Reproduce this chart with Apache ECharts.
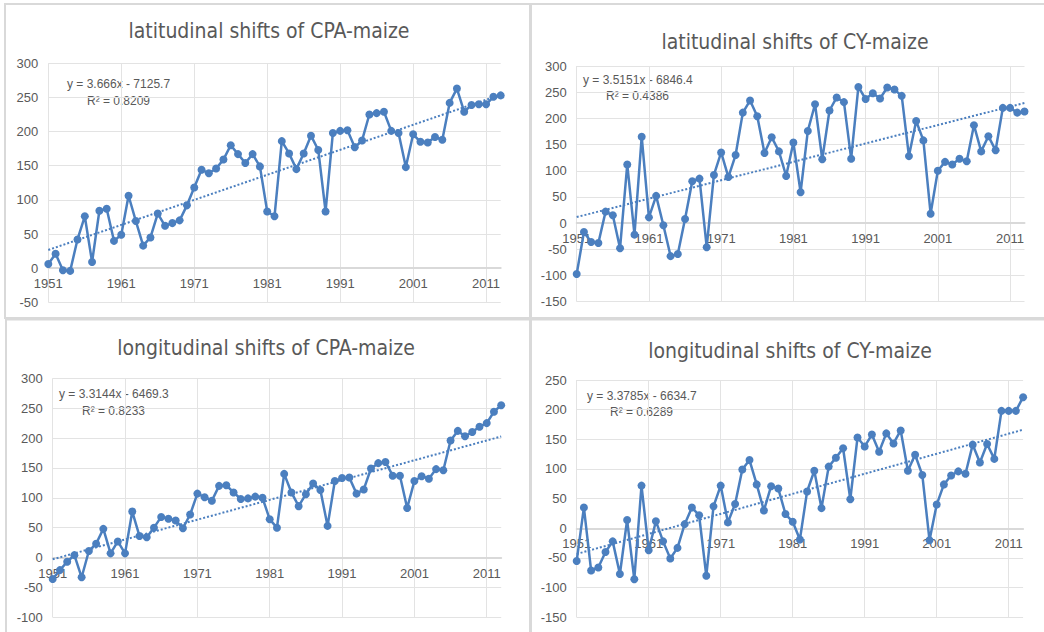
<!DOCTYPE html>
<html>
<head>
<meta charset="utf-8">
<script src="https://cdn.jsdelivr.net/npm/echarts@6/dist/echarts.min.js"></script>
<style>
    html, body { margin: 0; padding: 0; background: #fff; }
    #chart { width: 1044px; height: 632px; }
</style>
</head>
<body>
<div id="chart"></div>
<script>
// Years on the category axis
const years = [
    '1951','1952','1953','1954','1955','1956','1957','1958','1959','1960',
    '1961','1962','1963','1964','1965','1966','1967','1968','1969','1970',
    '1971','1972','1973','1974','1975','1976','1977','1978','1979','1980',
    '1981','1982','1983','1984','1985','1986','1987','1988','1989','1990',
    '1991','1992','1993','1994','1995','1996','1997','1998','1999','2000',
    '2001','2002','2003','2004','2005','2006','2007','2008','2009','2010',
    '2011','2012','2013'
];

// Values
const cpaLatitudinal = [
    6, 21, -3, -4, 42, 76, 9, 84, 87, 40,
    49, 106, 69, 33, 45, 80, 62, 66, 70, 92,
    118, 144, 139, 146, 159, 180, 167, 154, 167, 149,
    83, 76, 186, 168, 145, 168, 194, 173, 83, 198,
    201, 202, 177, 187, 225, 227, 229, 201, 198, 148,
    196, 185, 184, 192, 188, 242, 263, 229, 239, 240,
    240, 251, 253
];
const cyLatitudinal = [
    -97, -17, -36, -38, 22, 15, -48, 112, -22, 165,
    11, 52, -4, -63, -59, 8, 80, 85, -46, 92,
    135, 88, 130, 211, 234, 204, 134, 164, 137, 90,
    154, 59, 176, 227, 122, 215, 240, 231, 123, 260,
    237, 248, 238, 259, 255, 243, 128, 195, 158, 18,
    100, 117, 112, 123, 118, 187, 137, 166, 139, 220,
    220, 211, 213
];
const cpaLongitudinal = [
    -36, -21, -7, 4, -33, 11, 23, 48, 7, 27,
    7, 77, 36, 34, 50, 68, 65, 62, 49, 72,
    107, 101, 95, 120, 121, 109, 98, 99, 102, 100,
    64, 50, 140, 109, 86, 106, 124, 113, 53, 128,
    133, 134, 107, 114, 149, 158, 160, 137, 137, 83,
    128, 136, 132, 148, 146, 196, 212, 203, 210, 219,
    225, 244, 255
];
const cyLongitudinal = [
    -55, 35, -71, -66, -40, -22, -77, 14, -86, 72,
    -37, 12, -22, -51, -33, 7, 35, 22, -80, 37,
    72, 10, 41, 99, 115, 74, 30, 71, 67, 24,
    11, -19, 62, 97, 34, 104, 119, 135, 49, 153,
    138, 158, 129, 160, 143, 165, 97, 124, 90, -20,
    40, 74, 89, 96, 92, 141, 111, 142, 117, 198,
    198, 198, 221
];

const panelTitles = [
    'latitudinal shifts of CPA-maize',
    'latitudinal shifts of CY-maize',
    'longitudinal shifts of CPA-maize',
    'longitudinal shifts of CY-maize'
];
const equationTexts = ['y = 3.666x - 7125.7', 'y = 3.5151x - 6846.4', 'y = 3.3144x - 6469.3', 'y = 3.3785x - 6634.7'];
const rSquaredTexts = ['R² = 0.8209', 'R² = 0.4386', 'R² = 0.8233', 'R² = 0.6289'];
const trendSlopes = [3.666, 3.5151, 3.3144, 3.3785];
const trendIntercepts = [-7125.7, -6846.4, -6469.3, -6634.7];
const yAxisMin = [-50, -150, -100, -150];
const yAxisMax = [300, 300, 300, 250];

const allSeries = [cpaLatitudinal, cyLatitudinal, cpaLongitudinal, cyLongitudinal];

// Layout of each panel (pixels)
const layouts = [
    { grid: { left: 48.3, top: 63.3, width: 452.4, height: 239 }, title: [269, 31], eq: [67, 78], r2: [87, 95] },
    { grid: { left: 576.7, top: 66, width: 447.8, height: 235.7 }, title: [795, 42], eq: [583, 74], r2: [606, 90] },
    { grid: { left: 52.7, top: 378.3, width: 448.5, height: 239 }, title: [266, 348], eq: [59, 388], r2: [82, 405] },
    { grid: { left: 576.7, top: 380, width: 446.4, height: 237.3 }, title: [790, 351], eq: [587, 390], r2: [610, 406] }
];

const BLUE = '#4b7fbf';
const GREY_TEXT = '#595959';
const GRID_LINE = '#e3e3e3';

const chart = echarts.init(document.getElementById('chart'), null, { renderer: 'svg' });

const grids = [], xAxes = [], yAxes = [], series = [], graphics = [];

// Panel outlines
graphics.push(
    { type: 'rect', shape: { x: 5, y: 4, width: 525, height: 314 }, style: { fill: 'none', stroke: '#d9d9d9', lineWidth: 2 } },
    { type: 'rect', shape: { x: 531, y: 4, width: 520, height: 314 }, style: { fill: 'none', stroke: '#d9d9d9', lineWidth: 2 } },
    { type: 'rect', shape: { x: 6, y: 319.5, width: 524, height: 320 }, style: { fill: 'none', stroke: '#d9d9d9', lineWidth: 2 } },
    { type: 'rect', shape: { x: 531, y: 319.5, width: 520, height: 320 }, style: { fill: 'none', stroke: '#d9d9d9', lineWidth: 2 } }
);

layouts.forEach((lay, i) => {
    grids.push(Object.assign({ outerBoundsMode: 'none', containLabel: false }, lay.grid));

    // the horizontal axis sits on the zero line, labels included (Excel style)
    const zeroOffset = lay.grid.height * (0 - yAxisMin[i]) / (yAxisMax[i] - yAxisMin[i]);

    xAxes.push({
        type: 'category',
        gridIndex: i,
        data: years,
        boundaryGap: false,
        position: 'bottom',
        offset: -zeroOffset,
        axisLine: { onZero: false, lineStyle: { color: '#d9d9d9', width: 2 } },
        axisTick: { show: false },
        axisLabel: { interval: 9, color: GREY_TEXT, fontSize: 13, fontFamily: 'Liberation Sans', margin: 9 },
        splitLine: { show: true, interval: 9, lineStyle: { color: GRID_LINE, width: 1 } }
    });

    yAxes.push({
        type: 'value',
        gridIndex: i,
        min: yAxisMin[i],
        max: yAxisMax[i],
        interval: 50,
        axisLine: { show: false },
        axisTick: { show: false },
        axisLabel: { color: GREY_TEXT, fontSize: 13, fontFamily: 'Liberation Sans', margin: 10 },
        splitLine: { lineStyle: { color: GRID_LINE, width: 1 } }
    });

    const firstYear = Number(years[0]);
    const lastYear = Number(years[years.length - 1]);

    series.push({
        type: 'line',
        xAxisIndex: i,
        yAxisIndex: i,
        data: allSeries[i],
        symbol: 'circle',
        symbolSize: 8,
        showAllSymbol: true,
        itemStyle: { color: BLUE },
        lineStyle: { color: BLUE, width: 2.5 },
        z: 3,
        markLine: {
            silent: true,
            symbol: 'none',
            label: { show: false },
            lineStyle: { color: BLUE, type: 'dotted', width: 2 },
            data: [[
                { coord: [years[0], trendSlopes[i] * firstYear + trendIntercepts[i]] },
                { coord: [years[years.length - 1], trendSlopes[i] * lastYear + trendIntercepts[i]] }
            ]]
        }
    });

    graphics.push(
        {
            type: 'text', x: lay.title[0], y: lay.title[1],
            style: { text: panelTitles[i], fill: GREY_TEXT, font: '21px "Liberation Sans Narrow", "DejaVu Sans Condensed", sans-serif', textAlign: 'center', textVerticalAlign: 'middle' }
        },
        {
            type: 'text', x: lay.eq[0], y: lay.eq[1],
            style: { text: equationTexts[i], fill: GREY_TEXT, font: '12px "Liberation Sans", sans-serif' }
        },
        {
            type: 'text', x: lay.r2[0], y: lay.r2[1],
            style: { text: rSquaredTexts[i], fill: GREY_TEXT, font: '12px "Liberation Sans", sans-serif' }
        }
    );
});

chart.setOption({
    animation: false,
    grid: grids,
    xAxis: xAxes,
    yAxis: yAxes,
    series: series,
    graphic: graphics
});
</script>
</body>
</html>
